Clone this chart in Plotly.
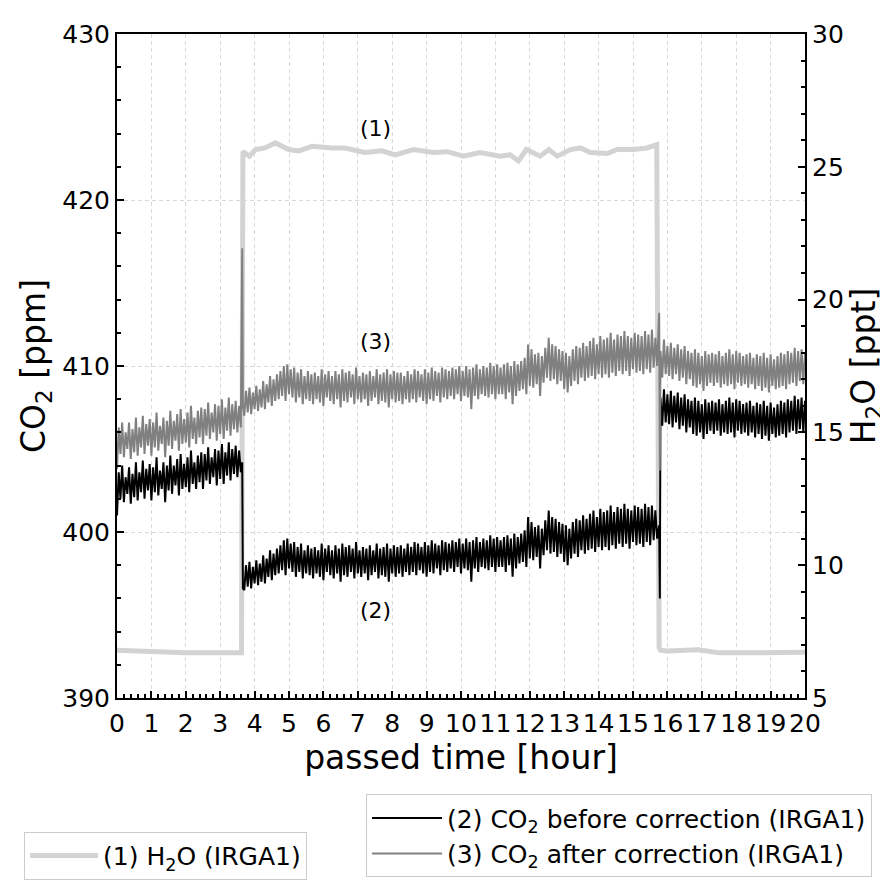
import plotly.graph_objects as go

# time axis [hour] for the CO2 records: 0.05 h grid plus the valve switching points
t_a = [round(0.05 * i, 2) for i in range(73)]            # 0.00 .. 3.60
t_s1 = [3.64, 3.66]
t_b = [round(3.7 + 0.05 * i, 2) for i in range(241)]     # 3.70 .. 15.70
t_s2 = [15.76, 15.78, 15.8]
t_c = [round(15.85 + 0.05 * i, 2) for i in range(84)]    # 15.85 .. 20.00
t_co2 = t_a + t_s1 + t_b + t_s2 + t_c

# (2) CO2 before correction [ppm]
co2_before = [
    401.0, 403.6, 402.0, 404.0, 401.8, 403.3, 402.3, 403.9, 401.7, 403.5,
    402.1, 404.2, 401.9, 403.6, 402.4, 404.3, 402.0, 403.8, 402.5, 404.1,
    401.9, 403.9, 402.4, 404.5, 402.2, 403.7, 402.6, 404.2, 401.8, 404.0,
    402.5, 404.6, 402.3, 404.0, 402.8, 404.4, 402.2, 404.7, 402.6, 404.1,
    402.7, 404.5, 402.4, 404.9, 402.9, 404.2, 402.6, 404.6, 403.0, 404.8,
    402.6, 404.7, 403.1, 405.1, 402.9, 404.5, 403.3, 405.0, 402.8, 404.9,
    403.2, 405.3, 402.9, 404.8, 403.4, 405.4, 403.1, 405.0, 403.5, 405.2,
    403.3, 404.9, 403.6,
    404.2, 396.6,
    396.5, 398.0, 396.7, 398.2, 396.6, 397.9, 396.9, 398.3, 396.8, 398.1,
    397.0, 398.6, 396.9, 398.4, 397.3, 398.9, 397.1, 398.7, 397.4, 399.0,
    397.5, 399.2, 397.7, 399.5, 397.4, 399.6, 397.8, 399.3, 397.6, 399.4,
    397.3, 399.1, 397.6, 399.3, 397.2, 398.9, 397.5, 399.2, 397.4, 399.0,
    397.2, 399.1, 397.5, 398.9, 397.3, 399.3, 397.1, 399.0, 397.6, 399.2,
    397.4, 398.9, 397.2, 399.2, 397.5, 399.0, 397.0, 399.3, 397.4, 399.1,
    397.3, 399.2, 397.6, 399.0, 397.2, 399.4, 397.5, 398.9, 397.3, 399.1,
    397.5, 399.0, 397.1, 399.2, 397.4, 398.9, 397.6, 399.3, 397.2, 399.0,
    397.4, 399.1, 397.3, 399.3, 397.0, 399.0, 397.5, 399.2, 397.3, 399.1,
    397.5, 399.2, 397.3, 399.0, 397.6, 399.3, 397.4, 399.1, 397.6, 399.4,
    397.4, 399.3, 397.7, 399.1, 397.5, 399.4, 397.3, 399.2, 397.6, 399.5,
    397.5, 399.3, 397.8, 399.2, 397.4, 399.5, 397.7, 399.4, 397.6, 399.3,
    397.8, 399.5, 397.6, 399.4, 397.9, 399.6, 397.5, 399.3, 397.8, 399.6,
    397.7, 399.4, 397.0, 399.5, 397.8, 399.7, 397.6, 399.4, 397.9, 399.6,
    397.8, 399.5, 397.7, 399.8, 397.9, 399.6, 397.6, 399.7, 397.9, 399.5,
    397.9, 399.7, 397.6, 399.8, 398.0, 399.6, 397.3, 399.9, 397.8, 399.7,
    398.1, 399.9, 398.2, 400.1, 397.9, 400.9, 398.4, 400.6, 398.3, 400.3,
    398.5, 400.4, 397.8, 400.2, 398.6, 400.7, 398.9, 401.3, 398.7, 400.9,
    398.8, 400.8, 398.5, 400.6, 398.7, 400.5, 398.2, 400.4, 398.0, 400.2,
    398.4, 400.6, 398.7, 400.8, 398.5, 400.7, 398.9, 401.0, 398.7, 400.8,
    398.9, 401.1, 399.0, 401.3, 398.8, 400.9, 399.1, 401.4, 398.9, 401.2,
    399.1, 401.3, 398.9, 401.6, 399.2, 401.2, 399.0, 401.5, 399.3, 401.4,
    399.1, 401.7, 399.3, 401.4, 399.0, 401.3, 399.4, 401.6, 399.2, 401.5,
    399.3, 401.4, 399.1, 401.7, 399.4, 401.5, 399.2, 401.6, 399.5, 401.3,
    399.6,
    400.4, 396.0, 408.1,
    406.4, 408.6, 406.6, 408.3, 406.5, 408.5, 406.3, 408.2, 406.6, 408.4,
    406.2, 408.1, 406.4, 408.3, 406.0, 408.0, 406.3, 407.9, 405.9, 408.1,
    405.8, 407.9, 406.0, 407.7, 405.6, 408.0, 405.9, 407.8, 406.1, 407.9,
    405.9, 407.8, 406.1, 408.0, 405.8, 407.7, 406.0, 407.9, 405.9, 408.1,
    406.0, 407.8, 405.7, 408.0, 406.1, 407.9, 405.9, 407.7, 406.0, 407.8,
    405.8, 407.9, 406.0, 407.6, 405.7, 407.8, 405.9, 407.7, 405.6, 407.9,
    405.8, 407.6, 405.5, 407.8, 405.9, 407.5, 405.7, 407.7, 405.8, 407.9,
    405.9, 407.8, 405.7, 408.0, 406.0, 407.9, 406.1, 408.2, 405.9, 408.0,
    406.2, 408.1, 406.0, 407.9,
]

# (3) CO2 after correction [ppm]
co2_after = [
    403.8, 406.3, 404.7, 406.6, 404.5, 406.0, 405.0, 406.6, 404.4, 406.2,
    404.8, 406.9, 404.6, 406.3, 405.1, 407.0, 404.7, 406.5, 405.2, 406.8,
    404.6, 406.6, 405.1, 407.2, 404.9, 406.4, 405.3, 406.9, 404.5, 406.7,
    405.2, 407.3, 405.0, 406.7, 405.5, 407.1, 404.9, 407.4, 405.3, 406.8,
    405.4, 407.2, 405.1, 407.6, 405.6, 406.9, 405.3, 407.3, 405.7, 407.5,
    405.3, 407.4, 405.8, 407.8, 405.6, 407.2, 406.0, 407.7, 405.5, 407.6,
    405.9, 408.0, 405.6, 407.5, 406.1, 408.1, 405.8, 407.7, 406.2, 407.9,
    406.0, 407.6, 406.3,
    417.1, 407.6,
    407.0, 408.5, 407.2, 408.7, 407.1, 408.4, 407.4, 408.8, 407.3, 408.6,
    407.5, 409.1, 407.4, 408.9, 407.8, 409.4, 407.6, 409.2, 407.9, 409.5,
    408.0, 409.7, 408.2, 410.0, 407.9, 410.1, 408.3, 409.8, 408.1, 409.9,
    407.8, 409.6, 408.1, 409.8, 407.7, 409.4, 408.0, 409.7, 407.9, 409.5,
    407.7, 409.6, 408.0, 409.4, 407.8, 409.8, 407.6, 409.5, 408.1, 409.7,
    407.9, 409.4, 407.7, 409.7, 408.0, 409.5, 407.5, 409.8, 407.9, 409.6,
    407.8, 409.7, 408.1, 409.5, 407.7, 409.9, 408.0, 409.4, 407.8, 409.6,
    408.0, 409.5, 407.6, 409.7, 407.9, 409.4, 408.1, 409.8, 407.7, 409.5,
    407.9, 409.6, 407.8, 409.8, 407.5, 409.5, 408.0, 409.7, 407.8, 409.6,
    407.9, 409.6, 407.7, 409.4, 408.0, 409.7, 407.8, 409.5, 408.0, 409.8,
    407.8, 409.7, 408.1, 409.5, 407.9, 409.8, 407.7, 409.6, 408.0, 409.9,
    407.9, 409.7, 408.2, 409.6, 407.8, 409.9, 408.1, 409.8, 408.0, 409.7,
    408.2, 409.9, 408.0, 409.8, 408.3, 410.0, 407.9, 409.7, 408.2, 410.0,
    408.1, 409.8, 407.4, 409.9, 408.2, 410.1, 408.0, 409.8, 408.3, 410.0,
    408.2, 409.9, 408.1, 410.2, 408.3, 410.0, 408.0, 410.1, 408.3, 409.9,
    408.3, 410.1, 408.0, 410.2, 408.4, 410.0, 407.7, 410.3, 408.2, 410.1,
    408.5, 410.3, 408.6, 410.5, 408.3, 411.3, 408.8, 411.0, 408.7, 410.7,
    408.9, 410.8, 408.2, 410.6, 409.0, 411.1, 409.3, 411.7, 409.1, 411.3,
    409.2, 411.2, 408.9, 411.0, 409.1, 410.9, 408.6, 410.8, 408.4, 410.6,
    408.8, 411.0, 409.1, 411.2, 408.9, 411.1, 409.3, 411.4, 409.1, 411.2,
    409.3, 411.5, 409.4, 411.7, 409.2, 411.3, 409.5, 411.8, 409.3, 411.6,
    409.5, 411.7, 409.3, 412.0, 409.6, 411.6, 409.4, 411.9, 409.7, 411.8,
    409.5, 412.1, 409.7, 411.8, 409.4, 411.7, 409.8, 412.0, 409.6, 411.9,
    409.7, 411.8, 409.5, 412.1, 409.8, 411.9, 409.6, 412.2, 409.9, 411.7,
    410.0,
    413.2, 403.7, 410.9,
    409.3, 411.6, 409.5, 411.2, 409.4, 411.4, 409.2, 411.1, 409.5, 411.3,
    409.1, 411.0, 409.3, 411.2, 408.9, 410.9, 409.2, 410.8, 408.8, 411.0,
    408.7, 410.8, 408.9, 410.6, 408.5, 410.9, 408.8, 410.7, 409.0, 410.8,
    408.8, 410.7, 409.0, 410.9, 408.7, 410.6, 408.9, 410.8, 408.8, 411.0,
    408.9, 410.7, 408.6, 410.9, 409.0, 410.8, 408.8, 410.6, 408.9, 410.7,
    408.7, 410.8, 408.9, 410.5, 408.6, 410.7, 408.8, 410.6, 408.5, 410.8,
    408.7, 410.5, 408.4, 410.7, 408.8, 410.4, 408.6, 410.6, 408.7, 410.8,
    408.8, 410.7, 408.6, 410.9, 408.9, 410.8, 409.0, 411.1, 408.8, 410.9,
    409.1, 411.0, 408.9, 410.8,
]

assert len(t_co2) == len(co2_before) == len(co2_after)

# (1) H2O [ppt]
t_h2o = [0.0, 1.0, 2.0, 3.0, 3.62, 3.66, 3.85, 4.03, 4.3, 4.6, 4.99, 5.28,
         5.67, 6.25, 6.63, 7.2, 7.7, 8.09, 8.62, 9.2, 9.6, 10.07, 10.55,
         11.14, 11.43, 11.67, 11.9, 12.3, 12.55, 12.8, 13.18, 13.47, 13.76,
         14.25, 14.54, 15.02, 15.4, 15.69, 15.76, 15.8, 16.0, 16.9, 17.5,
         18.0, 19.0, 20.0]
h2o = [6.8, 6.75, 6.7, 6.7, 6.7, 25.58, 25.4, 25.65, 25.71, 25.9, 25.65, 25.6,
       25.77, 25.71, 25.71, 25.54, 25.6, 25.45, 25.65, 25.54, 25.57, 25.4, 25.54,
       25.4, 25.45, 25.22, 25.65, 25.4, 25.65, 25.4, 25.65, 25.71, 25.54,
       25.5, 25.65, 25.65, 25.71, 25.83, 6.9, 6.8, 6.77, 6.82, 6.7,
       6.7, 6.72, 6.72]

# curve labels
lbl_text = ["(1)", "(3)", "(2)"]
lbl_x = [7.5, 7.5, 7.5]
lbl_y = [424.3, 411.5, 395.3]

FONT = "DejaVu Sans"

fig = go.Figure()
# H2O on the primary (right) axis so the CO2 lines are drawn above it
fig.add_trace(go.Scatter(x=t_h2o, y=h2o, mode="lines", yaxis="y",
                         line=dict(color="#d3d3d3", width=5),
                         name="(1) H<sub>2</sub>O (IRGA1)", legend="legend"))
fig.add_trace(go.Scatter(x=t_co2, y=co2_before, mode="lines", yaxis="y2",
                         line=dict(color="black", width=2),
                         name="(2) CO<sub>2</sub> before correction (IRGA1)", legend="legend2"))
fig.add_trace(go.Scatter(x=t_co2, y=co2_after, mode="lines", yaxis="y2",
                         line=dict(color="#808080", width=2),
                         name="(3) CO<sub>2</sub> after correction (IRGA1)", legend="legend2"))

for txt, xx, yy in zip(lbl_text, lbl_x, lbl_y):
    fig.add_annotation(x=xx, y=yy, xref="x", yref="y2", text=txt, showarrow=False,
                       font=dict(family=FONT, size=22, color="black"))

tick_font = dict(family=FONT, size=25, color="black")
title_font = dict(family=FONT, size=33, color="black")
legend_font = dict(family=FONT, size=25, color="black")

# the page body adds an 8 px margin, so the margins are shifted by 8 px;
# the top margin leaves room for the "430" / "30" labels inside the div
fig.update_layout(
    width=888, height=884,
    margin=dict(l=109, r=91, t=22, b=192),
    plot_bgcolor="white", paper_bgcolor="white",
    font=dict(family=FONT, color="black"),
    xaxis=dict(range=[0, 20], dtick=1, tick0=0, ticks="inside", ticklen=7, tickwidth=1.5,
               tickcolor="black", showline=True, linecolor="black", linewidth=2, mirror=True,
               showgrid=True, gridcolor="#d9d9d9", gridwidth=1, griddash="4px,3px",
               zeroline=False, tickfont=tick_font, ticklabelstandoff=2,
               minor=dict(dtick=0.2, ticks="inside", ticklen=4, tickcolor="black", showgrid=False),
               title=dict(text="passed time [hour]", font=title_font, standoff=2)),
    yaxis=dict(range=[5, 30], dtick=5, side="right", ticks="inside", ticklen=7, tickwidth=1.5,
               tickcolor="black", showline=True, linecolor="black", linewidth=2,
               showgrid=False, zeroline=False, tickfont=tick_font,
               minor=dict(dtick=1, ticks="inside", ticklen=4, tickcolor="black", showgrid=False),
               title=dict(text="H<sub>2</sub>O [ppt]", font=title_font, standoff=8)),
    yaxis2=dict(range=[390, 430], dtick=10, side="left", overlaying="y", anchor="x",
                ticks="inside", ticklen=7, tickwidth=1.5, tickcolor="black",
                showline=True, linecolor="black", linewidth=2,
                showgrid=True, gridcolor="#d9d9d9", gridwidth=1, griddash="4px,3px",
                zeroline=False, tickfont=tick_font,
                minor=dict(dtick=2, ticks="inside", ticklen=4, tickcolor="black", showgrid=False),
                title=dict(text="CO<sub>2</sub> [ppm]", font=title_font, standoff=7)),
    legend=dict(x=-0.135, y=-0.2015, xanchor="left", yanchor="top", itemwidth=68,
                bordercolor="#cccccc", borderwidth=1, bgcolor="white", font=legend_font),
    legend2=dict(x=0.362, y=-0.1448, xanchor="left", yanchor="top", itemwidth=70,
                 bordercolor="#cccccc", borderwidth=1, bgcolor="white", font=legend_font),
    showlegend=True,
)

fig.write_html("out.html")
